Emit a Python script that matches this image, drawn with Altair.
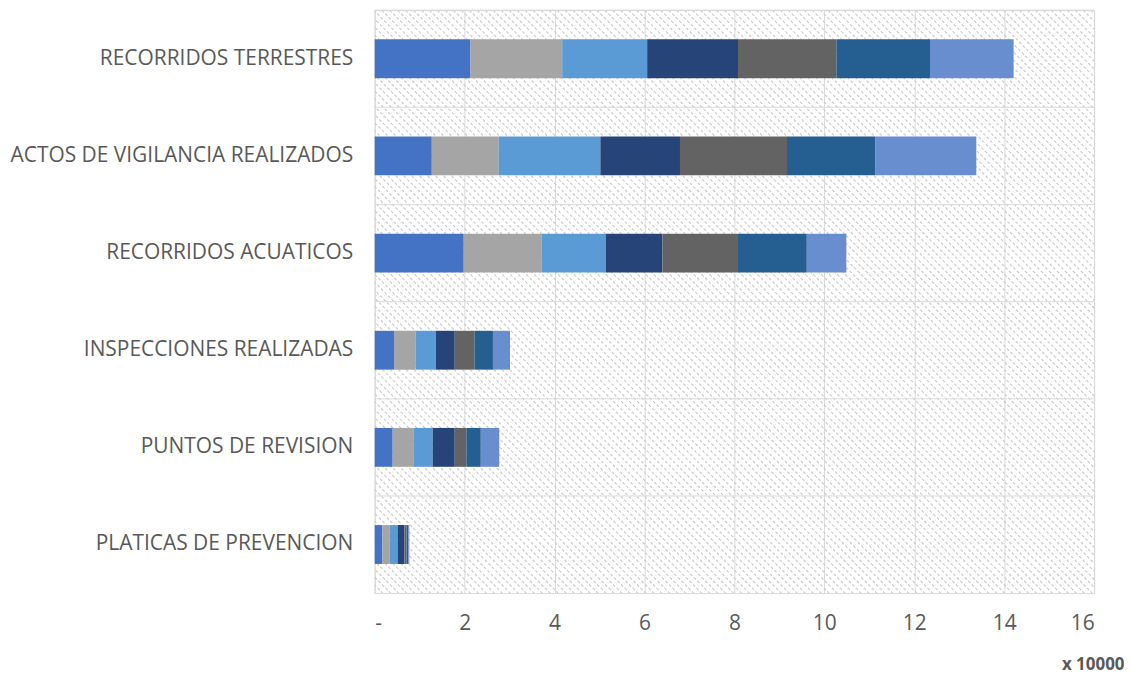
import altair as alt
import pandas as pd

categories = [
    "RECORRIDOS TERRESTRES",
    "ACTOS DE VIGILANCIA REALIZADOS",
    "RECORRIDOS ACUATICOS",
    "INSPECCIONES REALIZADAS",
    "PUNTOS DE REVISION",
    "PLATICAS DE PREVENCION",
]
series = ["Serie 1", "Serie 2", "Serie 3", "Serie 4", "Serie 5", "Serie 6", "Serie 7"]
colors = ["#4472C4", "#A5A5A5", "#5B9BD5", "#264478", "#636363", "#255E91", "#698ED0"]

recorridos_terrestres = [21300, 20400, 18900, 20200, 21900, 20800, 18600]
actos_vigilancia = [12700, 14900, 22600, 17700, 23800, 19600, 22500]
recorridos_acuaticos = [19800, 17300, 14300, 12600, 16800, 15300, 8800]
inspecciones = [4300, 4800, 4500, 4200, 4400, 4100, 3800]
puntos_revision = [4000, 4600, 4300, 4900, 2600, 3200, 4100]
platicas = [1700, 1600, 1800, 1500, 500, 400, 200]

x_ticks = [0, 2, 4, 6, 8, 10, 12, 14, 16]

rows = []
for cat, vals in zip(categories, [recorridos_terrestres, actos_vigilancia, recorridos_acuaticos,
                                  inspecciones, puntos_revision, platicas]):
    for i, (s, v) in enumerate(zip(series, vals)):
        rows.append({"categoria": cat, "serie": s, "orden": i, "valor": v})
df = pd.DataFrame(rows)
cats_df = pd.DataFrame({"categoria": categories})

W, H = 722, 585
GRID = "#d9d9d9"

hatch = (
    alt.Chart(alt.sequence(0, 170, as_="k"))
    .transform_calculate(x0=f"datum.k*8 - {H}", x1="datum.k*8", y0="0", y1=f"{H}")
    .mark_rule(clip=True, color="#c8c8c8", strokeWidth=1.1, strokeDash=[3, 2])
    .encode(
        x=alt.X("x0:Q", scale=None, axis=None),
        x2="x1:Q",
        y=alt.Y("y0:Q", scale=None, axis=None),
        y2="y1:Q",
    )
)

y_enc_kwargs = dict(sort=categories, scale=alt.Scale(paddingInner=0, paddingOuter=0))

hgrid = (
    alt.Chart(cats_df)
    .mark_rule(color=GRID, strokeWidth=1)
    .encode(y=alt.Y("categoria:N", bandPosition=0, **y_enc_kwargs))
)

bars = (
    alt.Chart(df)
    .transform_calculate(v10k="datum.valor / 10000")
    .mark_bar(height=alt.RelativeBandSize(0.4))
    .encode(
        y=alt.Y(
            "categoria:N",
            axis=alt.Axis(
                title=None,
                grid=False,
                ticks=False,
                domain=False,
                labelPadding=22,
                labelFontSize=21,
                labelColor="#595959",
                labelLimit=400,
            ),
            **y_enc_kwargs,
        ),
        x=alt.X(
            "sum(v10k):Q",
            stack="zero",
            scale=alt.Scale(domain=[0, 16], nice=False),
            axis=alt.Axis(
                values=x_ticks,
                labelExpr="datum.value == 0 ? '-' : datum.label",
                grid=True,
                gridColor=GRID,
                domain=False,
                ticks=False,
                labelPadding=20,
                labelFontSize=21,
                labelColor="#595959",
                title="x 10000",
                titleFontSize=17,
                titleFontWeight="bold",
                titleColor="#595959",
                titleX=752,
                titleY=72,
                titleAlign="right",
                titleBaseline="middle",
            ),
        ),
        color=alt.Color("serie:N", scale=alt.Scale(domain=series, range=colors), legend=None),
        order=alt.Order("orden:Q"),
    )
)

chart = (
    alt.layer(hatch, alt.layer(hgrid, bars))
    .resolve_scale(x="independent", y="independent")
    .properties(width=W, height=H, padding={"top": 0, "left": 1, "right": 0, "bottom": 0})
    .configure(font="Open Sans")
    .configure_view(stroke=GRID)
)

chart.save("out.html", embed_options={"renderer": "svg", "actions": False})
